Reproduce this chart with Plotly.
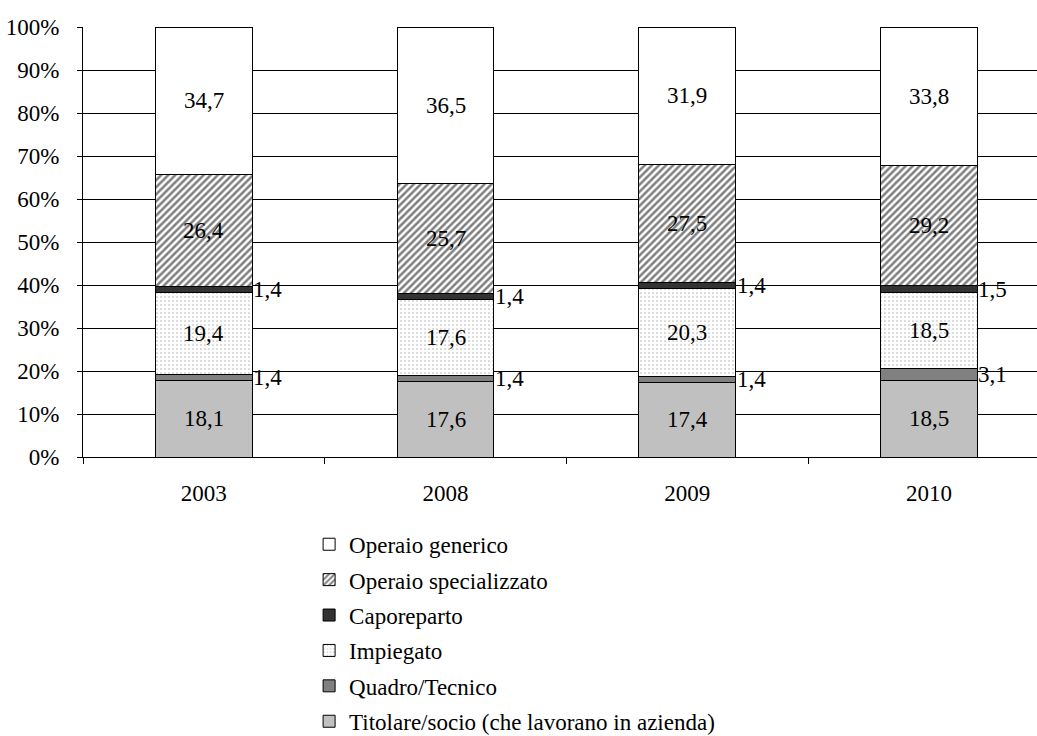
import plotly.graph_objects as go

# Composition of employees by position (values per year, normalised to 100%)
years = ["2003", "2008", "2009", "2010"]
titolare = [18.1, 17.6, 17.4, 18.5]
quadro = [1.4, 1.4, 1.4, 3.1]
impiegato = [19.4, 17.6, 20.3, 18.5]
capo = [1.4, 1.4, 1.4, 1.5]
op_spec = [26.4, 25.7, 27.5, 29.2]
op_gen = [34.7, 36.5, 31.9, 33.8]

series_names = [
    "Titolare/socio (che lavorano in azienda)",
    "Quadro/Tecnico",
    "Impiegato",
    "Caporeparto",
    "Operaio specializzato",
    "Operaio generico",
]
y_ticks = [0, 10, 20, 30, 40, 50, 60, 70, 80, 90, 100]
y_tick_text = [f"{v}%" for v in y_ticks]

FONT = "Liberation Serif"
FSIZE = 23
BAR_W = 0.4

series = [titolare, quadro, impiegato, capo, op_spec, op_gen]
styles = [
    dict(color="#c0c0c0"),
    dict(color="#808080"),
    dict(color="white", pattern=dict(shape=".", fgcolor="#777777", bgcolor="white",
                                     size=4, solidity=0.15)),
    dict(color="#333333"),
    dict(color="white", pattern=dict(shape="/", fgcolor="black", bgcolor="white",
                                     size=5, solidity=0.5)),
    dict(color="white"),
]
# small segments get their label to the right of the bar
outside = [False, True, False, True, False, False]

fig = go.Figure()
n = len(series)
for i, (name, vals, st) in enumerate(zip(series_names, series, styles)):
    fig.add_trace(go.Bar(
        x=years, y=vals, name=name, width=BAR_W,
        legendgroup=f"g{i}", legendrank=n - i,
        marker=dict(line=dict(color="black", width=1), **st),
    ))

# value labels, positioned at the centre of each normalised segment
annotations = []
for j, yr in enumerate(years):
    total = sum(s[j] for s in series)
    base = 0.0
    for i, vals in enumerate(series):
        v = vals[j]
        share = v / total * 100
        mid = base + share / 2
        base += share
        label = f"{v:.1f}".replace(".", ",")
        if outside[i]:
            annotations.append(dict(
                x=j + BAR_W / 2, y=mid, xref="x", yref="y", text=label,
                showarrow=False, xanchor="left", yanchor="middle", xshift=-1,
                font=dict(family=FONT, size=FSIZE, color="black")))
        else:
            annotations.append(dict(
                x=j, y=mid, xref="x", yref="y", text=label,
                showarrow=False, xanchor="center", yanchor="middle",
                font=dict(family=FONT, size=FSIZE, color="black")))

# horizontal gridlines (no line at the top of the scale), snapped to the pixel grid
shapes = [
    dict(type="line", xref="paper", yref="y", x0=0, x1=1,
         ysizemode="pixel", yanchor=t, y0=-0.5, y1=-0.5,
         line=dict(color="black", width=1), layer="below")
    for t in y_ticks[1:-1]
]

fig.update_layout(
    barmode="stack",
    barnorm="percent",
    width=1037, height=736,
    margin=dict(l=83, r=0, t=27, b=279, autoexpand=False),
    paper_bgcolor="white", plot_bgcolor="white",
    font=dict(family=FONT, size=FSIZE, color="black"),
    annotations=annotations,
    shapes=shapes,
    showlegend=True,
    legend=dict(
        orientation="v", traceorder="grouped", tracegroupgap=2.5,
        x=0.237, xanchor="left", y=-0.153, yanchor="top",
        font=dict(family=FONT, size=FSIZE, color="black"),
        bgcolor="rgba(0,0,0,0)",
    ),
)
fig.update_xaxes(
    type="category", range=[-0.5, 3.447],
    showline=True, linecolor="black", linewidth=1,
    ticks="outside", tickson="boundaries", ticklen=6, tickcolor="black",
    ticklabelstandoff=15, showgrid=False, zeroline=False,
)
fig.update_yaxes(
    range=[0, 100], tickmode="array", tickvals=y_ticks, ticktext=y_tick_text,
    showline=True, linecolor="black", linewidth=1,
    ticks="outside", ticklen=5, tickcolor="black",
    ticklabelstandoff=13, showgrid=False, zeroline=False,
)

fig.write_html("out.html")
